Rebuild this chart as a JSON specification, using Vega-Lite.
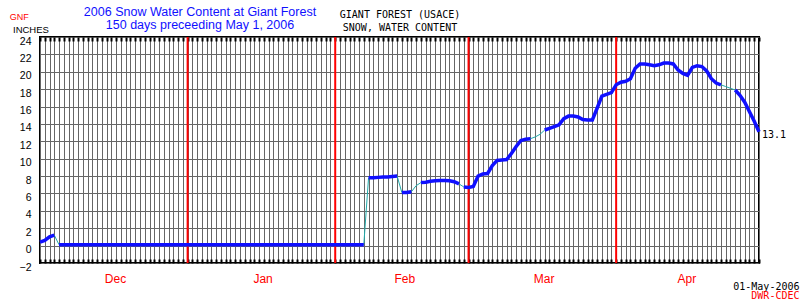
{
"$schema":"https://vega.github.io/schema/vega-lite/v6.json",
"width":719,"height":226,
"autosize":{"type":"none"},
"padding":{"left":40,"top":37,"right":41,"bottom":37},
"background":"white",
"config":{"view":{"stroke":"#000","strokeWidth":2}},
"title":{"text":["2006 Snow Water Content at Giant Forest","150 days preceeding May 1, 2006"],"anchor":"middle","dx":-199.5,"dy":22,"color":"#1010ff","font":"Liberation Sans","fontSize":12.5,"fontWeight":"normal","lineHeight":13.5,"offset":0},
"datasets":{
"months":[{"date":"2006-01-01"},{"date":"2006-02-01"},{"date":"2006-03-01"},{"date":"2006-04-01"}],
"swc":[
{"date":"2005-12-01","v":0.4,"s":"a"},{"date":"2005-12-02","v":0.6,"s":"a"},{"date":"2005-12-03","v":1.0,"s":"a"},{"date":"2005-12-04","v":1.2,"s":"a"},
{"date":"2005-12-05","v":0.1,"s":"b"},{"date":"2005-12-06","v":0.1,"s":"b"},{"date":"2005-12-07","v":0.1,"s":"b"},{"date":"2005-12-08","v":0.1,"s":"b"},{"date":"2005-12-09","v":0.1,"s":"b"},{"date":"2005-12-10","v":0.1,"s":"b"},{"date":"2005-12-11","v":0.1,"s":"b"},{"date":"2005-12-12","v":0.1,"s":"b"},{"date":"2005-12-13","v":0.1,"s":"b"},{"date":"2005-12-14","v":0.1,"s":"b"},{"date":"2005-12-15","v":0.1,"s":"b"},{"date":"2005-12-16","v":0.1,"s":"b"},{"date":"2005-12-17","v":0.1,"s":"b"},{"date":"2005-12-18","v":0.1,"s":"b"},{"date":"2005-12-19","v":0.1,"s":"b"},{"date":"2005-12-20","v":0.1,"s":"b"},{"date":"2005-12-21","v":0.1,"s":"b"},{"date":"2005-12-22","v":0.1,"s":"b"},{"date":"2005-12-23","v":0.1,"s":"b"},{"date":"2005-12-24","v":0.1,"s":"b"},{"date":"2005-12-25","v":0.1,"s":"b"},{"date":"2005-12-26","v":0.1,"s":"b"},{"date":"2005-12-27","v":0.1,"s":"b"},{"date":"2005-12-28","v":0.1,"s":"b"},{"date":"2005-12-29","v":0.1,"s":"b"},{"date":"2005-12-30","v":0.1,"s":"b"},{"date":"2005-12-31","v":0.1,"s":"b"},
{"date":"2006-01-01","v":0.1,"s":"b"},{"date":"2006-01-02","v":0.1,"s":"b"},{"date":"2006-01-03","v":0.1,"s":"b"},{"date":"2006-01-04","v":0.1,"s":"b"},{"date":"2006-01-05","v":0.1,"s":"b"},{"date":"2006-01-06","v":0.1,"s":"b"},{"date":"2006-01-07","v":0.1,"s":"b"},{"date":"2006-01-08","v":0.1,"s":"b"},{"date":"2006-01-09","v":0.1,"s":"b"},{"date":"2006-01-10","v":0.1,"s":"b"},{"date":"2006-01-11","v":0.1,"s":"b"},{"date":"2006-01-12","v":0.1,"s":"b"},{"date":"2006-01-13","v":0.1,"s":"b"},{"date":"2006-01-14","v":0.1,"s":"b"},{"date":"2006-01-15","v":0.1,"s":"b"},{"date":"2006-01-16","v":0.1,"s":"b"},{"date":"2006-01-17","v":0.1,"s":"b"},{"date":"2006-01-18","v":0.1,"s":"b"},{"date":"2006-01-19","v":0.1,"s":"b"},{"date":"2006-01-20","v":0.1,"s":"b"},{"date":"2006-01-21","v":0.1,"s":"b"},{"date":"2006-01-22","v":0.1,"s":"b"},{"date":"2006-01-23","v":0.1,"s":"b"},{"date":"2006-01-24","v":0.1,"s":"b"},{"date":"2006-01-25","v":0.1,"s":"b"},{"date":"2006-01-26","v":0.1,"s":"b"},{"date":"2006-01-27","v":0.1,"s":"b"},{"date":"2006-01-28","v":0.1,"s":"b"},{"date":"2006-01-29","v":0.1,"s":"b"},{"date":"2006-01-30","v":0.1,"s":"b"},{"date":"2006-01-31","v":0.1,"s":"b"},
{"date":"2006-02-01","v":0.1,"s":"b"},{"date":"2006-02-02","v":0.1,"s":"b"},{"date":"2006-02-03","v":0.1,"s":"b"},{"date":"2006-02-04","v":0.1,"s":"b"},{"date":"2006-02-05","v":0.1,"s":"b"},{"date":"2006-02-06","v":0.1,"s":"b"},{"date":"2006-02-07","v":0.1,"s":"b"},
{"date":"2006-02-08","v":7.8,"s":"c"},{"date":"2006-02-09","v":7.8,"s":"c"},{"date":"2006-02-10","v":7.85,"s":"c"},{"date":"2006-02-11","v":7.9,"s":"c"},{"date":"2006-02-12","v":7.9,"s":"c"},{"date":"2006-02-13","v":7.95,"s":"c"},{"date":"2006-02-14","v":8.0,"s":"c"},
{"date":"2006-02-15","v":6.1,"s":"d"},{"date":"2006-02-16","v":6.1,"s":"d"},{"date":"2006-02-17","v":6.2,"s":"d"},
{"date":"2006-02-18","v":6.9,"s":"e"},
{"date":"2006-02-19","v":7.25,"s":"f"},{"date":"2006-02-20","v":7.3,"s":"f"},{"date":"2006-02-21","v":7.4,"s":"f"},{"date":"2006-02-22","v":7.45,"s":"f"},{"date":"2006-02-23","v":7.5,"s":"f"},{"date":"2006-02-24","v":7.5,"s":"f"},{"date":"2006-02-25","v":7.45,"s":"f"},{"date":"2006-02-26","v":7.35,"s":"f"},{"date":"2006-02-27","v":7.1,"s":"f"},
{"date":"2006-02-28","v":6.75,"s":"g"},{"date":"2006-03-01","v":6.7,"s":"g"},{"date":"2006-03-02","v":6.8,"s":"g"},{"date":"2006-03-03","v":8.0,"s":"g"},{"date":"2006-03-04","v":8.25,"s":"g"},{"date":"2006-03-05","v":8.3,"s":"g"},{"date":"2006-03-06","v":9.2,"s":"g"},{"date":"2006-03-07","v":9.8,"s":"g"},{"date":"2006-03-08","v":9.85,"s":"g"},{"date":"2006-03-09","v":9.9,"s":"g"},{"date":"2006-03-10","v":10.6,"s":"g"},{"date":"2006-03-11","v":11.4,"s":"g"},{"date":"2006-03-12","v":12.1,"s":"g"},{"date":"2006-03-13","v":12.25,"s":"g"},{"date":"2006-03-14","v":12.3,"s":"g"},
{"date":"2006-03-15","v":12.5,"s":"h1"},{"date":"2006-03-16","v":12.8,"s":"h2"},
{"date":"2006-03-17","v":13.3,"s":"i"},{"date":"2006-03-18","v":13.5,"s":"i"},{"date":"2006-03-19","v":13.7,"s":"i"},{"date":"2006-03-20","v":13.9,"s":"i"},{"date":"2006-03-21","v":14.6,"s":"i"},{"date":"2006-03-22","v":14.9,"s":"i"},{"date":"2006-03-23","v":14.9,"s":"i"},{"date":"2006-03-24","v":14.8,"s":"i"},{"date":"2006-03-25","v":14.5,"s":"i"},{"date":"2006-03-26","v":14.45,"s":"i"},{"date":"2006-03-27","v":14.45,"s":"i"},{"date":"2006-03-28","v":15.8,"s":"i"},{"date":"2006-03-29","v":17.2,"s":"i"},{"date":"2006-03-30","v":17.4,"s":"i"},{"date":"2006-03-31","v":17.6,"s":"i"},
{"date":"2006-04-01","v":18.5,"s":"i"},{"date":"2006-04-02","v":18.8,"s":"i"},{"date":"2006-04-03","v":18.9,"s":"i"},{"date":"2006-04-04","v":19.2,"s":"i"},{"date":"2006-04-05","v":20.4,"s":"i"},{"date":"2006-04-06","v":20.9,"s":"i"},{"date":"2006-04-07","v":20.9,"s":"i"},{"date":"2006-04-08","v":20.8,"s":"i"},{"date":"2006-04-09","v":20.7,"s":"i"},{"date":"2006-04-10","v":20.8,"s":"i"},{"date":"2006-04-11","v":21.0,"s":"i"},{"date":"2006-04-12","v":21.0,"s":"i"},{"date":"2006-04-13","v":20.9,"s":"i"},{"date":"2006-04-14","v":20.2,"s":"i"},{"date":"2006-04-15","v":19.8,"s":"i"},{"date":"2006-04-16","v":19.6,"s":"i"},{"date":"2006-04-17","v":20.5,"s":"i"},{"date":"2006-04-18","v":20.7,"s":"i"},{"date":"2006-04-19","v":20.6,"s":"i"},{"date":"2006-04-20","v":20.1,"s":"i"},{"date":"2006-04-21","v":19.2,"s":"i"},{"date":"2006-04-22","v":18.7,"s":"i"},{"date":"2006-04-23","v":18.5,"s":"i"},
{"date":"2006-04-24","v":18.3,"s":"j1"},{"date":"2006-04-25","v":18.1,"s":"j2"},
{"date":"2006-04-26","v":17.9,"s":"k"},{"date":"2006-04-27","v":17.3,"s":"k"},{"date":"2006-04-28","v":16.5,"s":"k"},{"date":"2006-04-29","v":15.4,"s":"k"},{"date":"2006-04-30","v":14.3,"s":"k"},{"date":"2006-05-01","v":13.1,"s":"k"}
]},
"resolve":{"axis":{"x":"independent","y":"independent"}},
"layer":[
{"data":{"name":"months"},
 "mark":{"type":"rule","color":"#ff0000","strokeWidth":2},
 "encoding":{"x":{"field":"date","type":"temporal",
   "scale":{"type":"utc","domain":[{"year":2005,"month":12,"date":1,"utc":true},{"year":2006,"month":5,"date":1,"utc":true}],"nice":false},
   "axis":{"orient":"bottom","values":[{"year":2005,"month":12,"date":16,"hours":18,"utc":true},{"year":2006,"month":1,"date":16,"hours":18,"utc":true},{"year":2006,"month":2,"date":15,"hours":12,"utc":true},{"year":2006,"month":3,"date":16,"hours":18,"utc":true},{"year":2006,"month":4,"date":15,"hours":18,"utc":true}],
     "labelExpr":"utcFormat(datum.value, '%b')","labelColor":"#ff0000","labelFont":"Liberation Sans","labelFontSize":12,"labelPadding":15,"labelBaseline":"middle","labelFlush":false,"labelOverlap":false,"ticks":false,"grid":false,"domain":false,
     "title":"01-May-2006","titleColor":"#000","titleFont":"DejaVu Sans Mono","titleFontSize":10,"titleFontWeight":"normal","titleX":759,"titleY":23.5,"titleAlign":"right","titleBaseline":"middle"}}}},
{"data":{"name":"swc"},
 "mark":{"type":"line","color":"#20aaaa","strokeWidth":1},
 "encoding":{
  "x":{"field":"date","type":"temporal",
   "scale":{"type":"utc","domain":[{"year":2005,"month":12,"date":1,"utc":true},{"year":2006,"month":5,"date":1,"utc":true}],"nice":false},
   "axis":{"orient":"bottom","grid":true,"gridColor":"#666666","gridWidth":1,"gridOpacity":1,"ticks":true,"tickSize":-4,"tickWidth":2,"tickColor":"#000","labels":false,"domain":false,"tickCount":{"interval":"day","step":1},
     "title":"DWR-CDEC","titleColor":"#ff0000","titleFont":"DejaVu Sans Mono","titleFontSize":10,"titleFontWeight":"normal","titleX":759,"titleY":32.5,"titleAlign":"right","titleBaseline":"middle"}},
  "y":{"field":"v","type":"quantitative","scale":{"domain":[-2,24],"nice":false,"zero":false},
   "axis":{"orient":"left","values":[-2,0,2,4,6,8,10,12,14,16,18,20,22,24],"grid":true,"gridColor":"#666666","gridOpacity":1,"ticks":false,"domain":false,"labelPadding":9,"labelOffset":4,"labelFont":"Liberation Sans","labelFontSize":10.5,"labelColor":"#000",
     "title":"INCHES","titleAngle":0,"titleX":-27.5,"titleY":-8,"titleAlign":"left","titleBaseline":"middle","titleFont":"Liberation Sans","titleFontSize":9.5,"titleFontWeight":"normal","titleColor":"#000"}}}},
{"data":{"name":"swc"},
 "mark":{"type":"line","color":"#1010ff","strokeWidth":3.5},
 "encoding":{
  "x":{"field":"date","type":"temporal",
   "scale":{"type":"utc","domain":[{"year":2005,"month":12,"date":1,"utc":true},{"year":2006,"month":5,"date":1,"utc":true}],"nice":false},
   "axis":{"orient":"top","grid":false,"ticks":true,"tickSize":-4,"tickWidth":2,"tickColor":"#000","labels":false,"domain":false,"tickCount":{"interval":"day","step":1},
     "title":["GIANT FOREST (USACE)","SNOW, WATER CONTENT"],"titleFont":"DejaVu Sans Mono","titleFontSize":10,"titleFontWeight":"normal","titleColor":"#000","titleX":359.5,"titleY":-22.5,"titleAlign":"center","titleBaseline":"middle","titleLineHeight":12.5}},
  "y":{"field":"v","type":"quantitative","scale":{"domain":[-2,24],"nice":false,"zero":false},
   "axis":{"orient":"left","labels":false,"ticks":false,"grid":false,"domain":false,
     "title":"GNF","titleColor":"#ff0000","titleAngle":0,"titleX":-30.7,"titleY":-21,"titleAlign":"left","titleBaseline":"middle","titleFont":"Liberation Sans","titleFontSize":9,"titleFontWeight":"normal"}},
  "detail":{"field":"s","type":"nominal"}}},
{"data":{"name":"swc"},
 "transform":[{"filter":"datum.v == 13.1"}],
 "mark":{"type":"text","align":"left","baseline":"middle","dx":3,"dy":3,"font":"DejaVu Sans Mono","fontSize":10,"color":"#000"},
 "encoding":{
  "x":{"field":"date","type":"temporal","axis":null,"scale":{"type":"utc","domain":[{"year":2005,"month":12,"date":1,"utc":true},{"year":2006,"month":5,"date":1,"utc":true}],"nice":false}},
  "y":{"field":"v","type":"quantitative","axis":null,"scale":{"domain":[-2,24],"nice":false,"zero":false}},
  "text":{"field":"v","type":"quantitative","format":".1f"}}}
]
}
